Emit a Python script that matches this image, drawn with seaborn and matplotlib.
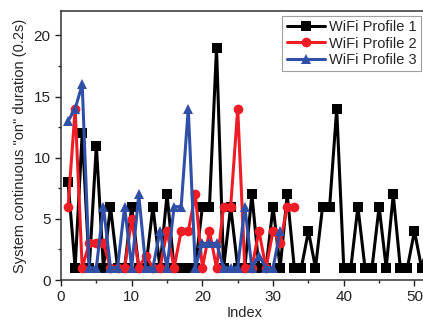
import matplotlib
matplotlib.use("Agg")
import matplotlib.pyplot as plt
import seaborn as sns
import pandas as pd
import numpy as np
from matplotlib.ticker import MultipleLocator

profile1 = [8, 1, 12, 1, 11, 1, 6, 1, 1, 6, 1, 1, 6, 1, 7, 1, 1, 1, 1, 6, 6, 19, 1, 6, 1, 1,
            7, 1, 1, 6, 1, 7, 1, 1, 4, 1, 6, 6, 14, 1, 1, 6, 1, 1, 6, 1, 7, 1, 1, 4, 1, 3]
profile2 = [6, 14, 1, 3, 3, 3, 1, 1, 1, 5, 1, 2, 1, 1, 4, 1, 4, 4, 7, 1, 4, 1, 6, 6, 14, 1, 1,
            4, 1, 4, 3, 6, 6]
profile3 = [13, 14, 16, 1, 1, 6, 1, 1, 6, 1, 7, 1, 1, 4, 1, 6, 6, 14, 1, 3, 3, 3, 1, 1, 1, 6,
            1, 2, 1, 1, 4]
names = ["WiFi Profile 1", "WiFi Profile 2", "WiFi Profile 3"]
series = [profile1, profile2, profile3]

rows = []
for name, vals in zip(names, series):
    for i, v in enumerate(vals, start=1):
        rows.append({"Index": i, "Duration": v, "Profile": name})
df = pd.DataFrame(rows)

sns.set_style("ticks")
plt.rcParams['font.family'] = ['Liberation Sans', 'DejaVu Sans']

fig = plt.figure(figsize=(4.23, 3.2), dpi=100)
ax = fig.add_axes([61/423, 40/320, (428.6-61)/423, 269/320])

colors = ["#000000", "#ee1c25", "#3050a8"]
sns.lineplot(data=df, x="Index", y="Duration", hue="Profile", style="Profile",
             markers=["s", "o", "^"], dashes=False, palette=colors,
             linewidth=2.2, markersize=7, markeredgewidth=0, ax=ax, legend=True)

ax.set_xlim(0, 52)
ax.set_ylim(0, 22)
ax.xaxis.set_major_locator(MultipleLocator(10))
ax.xaxis.set_minor_locator(MultipleLocator(5))
ax.yaxis.set_major_locator(MultipleLocator(5))
ax.yaxis.set_minor_locator(MultipleLocator(2.5))
ax.tick_params(which="major", direction="out", length=4, width=1, labelsize=11, colors="#222222")
ax.tick_params(which="minor", direction="out", length=2.5, width=1)
for s in ax.spines.values():
    s.set_linewidth(1.1)
    s.set_color("#333333")
ax.set_xlabel("Index", fontsize=10.5, labelpad=1)
ax.set_ylabel('System continuous "on" duration (0.2s)', fontsize=10.5, labelpad=5)

handles, labels = ax.get_legend_handles_labels()
leg = ax.legend(handles, labels, loc="upper right", bbox_to_anchor=(421/423, 1-16/320),
                bbox_transform=fig.transFigure, borderaxespad=0, fontsize=10.5,
                frameon=True, fancybox=False, edgecolor="#888888", handlelength=2.6,
                handletextpad=0.3, borderpad=0.3, labelspacing=0.15)
leg.get_frame().set_linewidth(0.8)

fig.savefig("out.png", dpi=100)
